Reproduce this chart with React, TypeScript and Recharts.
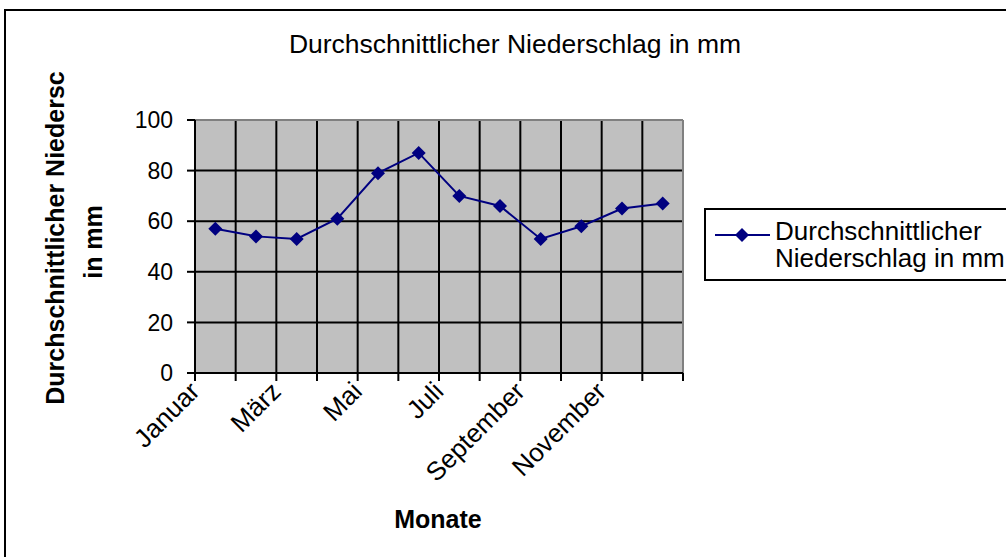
import { CartesianGrid, Line, LineChart, ReferenceLine, XAxis, YAxis } from "recharts"

// Monate und Werte (mm)
const months = [
    "Januar", "Februar", "März", "April", "Mai", "Juni",
    "Juli", "August", "September", "Oktober", "November", "Dezember",
]
const rainfall = [57, 54, 53, 61, 79, 87, 70, 66, 53, 58, 65, 67]
const yTicks = [0, 20, 40, 60, 80, 100]
const xTicks = [0, 1, 2, 3, 4, 5, 6, 7, 8, 9, 10, 11, 12]

const data = months.map((month, i) => ({ pos: i + 0.5, month, value: rainfall[i] }))

const font = '"Liberation Sans", Arial, sans-serif'
const navy = "#000080"

function MonthTick(props: any) {
    const { x, y, payload } = props
    const i = payload.value
    if (i % 2 !== 0 || i >= months.length) return <g />
    return (
        <text
            x={x + 6}
            y={y + 10}
            transform={`rotate(-45, ${x + 6}, ${y + 10})`}
            textAnchor="end"
            fontSize={26}
            fontFamily={font}
            fill="#000"
        >
            {months[i]}
        </text>
    )
}

function Diamond(props: any) {
    const { cx, cy } = props
    if (cx == null || cy == null) return <g />
    const r = 7
    return <path d={`M${cx} ${cy - r} L${cx + r} ${cy} L${cx} ${cy + r} L${cx - r} ${cy} Z`} fill={navy} />
}

function YLabel() {
    return (
        <g fontFamily={font} fontSize={25} fontWeight="bold" fill="#000" textAnchor="middle">
            <text x={64} y={238} transform="rotate(-90, 64, 238)">Durchschnittlicher Niedersc</text>
            <text x={102} y={242} transform="rotate(-90, 102, 242)">in mm</text>
        </g>
    )
}

function XLabel() {
    return (
        <text x={438} y={528} textAnchor="middle" fontFamily={font} fontSize={25} fontWeight="bold" fill="#000">
            Monate
        </text>
    )
}

export default function App() {
    return (
        <div style={{ position: "absolute", left: 0, top: 0, width: 1006, height: 557, overflow: "hidden", background: "#fff", fontFamily: font }}>
            <div style={{ position: "absolute", left: 4, top: 9, width: 1100, height: 700, border: "2px solid #000" }} />
            <div style={{ position: "absolute", left: 0, width: 1030, top: 29, fontSize: 26.5, lineHeight: "30px", textAlign: "center", color: "#000" }}>
                Durchschnittlicher Niederschlag in mm
            </div>
            <div style={{ position: "absolute", left: 0, top: 0 }}>
                <LineChart width={1006} height={557} data={data} margin={{ top: 120, right: 323, bottom: 94, left: 135 }}>
                    <CartesianGrid stroke="#000" strokeWidth={2} fill="#C0C0C0" fillOpacity={1} />
                    <XAxis
                        type="number"
                        dataKey="pos"
                        domain={[0, 12]}
                        ticks={xTicks}
                        interval={0}
                        height={90}
                        tick={<MonthTick />}
                        tickSize={8}
                        tickMargin={2}
                        axisLine={{ stroke: "#000", strokeWidth: 2 }}
                        tickLine={{ stroke: "#000", strokeWidth: 2 }}
                        label={<XLabel />}
                    />
                    <YAxis
                        domain={[0, 100]}
                        ticks={yTicks}
                        width={60}
                        tickSize={8}
                        tickMargin={14}
                        tick={{ fontSize: 23, fontFamily: font, fill: "#000" }}
                        axisLine={{ stroke: "#000", strokeWidth: 2 }}
                        tickLine={{ stroke: "#000", strokeWidth: 2 }}
                        label={<YLabel />}
                    />
                    <ReferenceLine x={12} stroke="#808080" strokeWidth={2} />
                    <ReferenceLine y={100} stroke="#808080" strokeWidth={2} />
                    <Line
                        type="linear"
                        dataKey="value"
                        stroke={navy}
                        strokeWidth={2}
                        dot={<Diamond />}
                        activeDot={false}
                        isAnimationActive={false}
                    />
                </LineChart>
            </div>
            <div style={{ position: "absolute", left: 704, top: 208, width: 400, height: 69, border: "2px solid #000", background: "#fff" }}>
                <svg width={60} height={40} style={{ position: "absolute", left: 9, top: 5 }}>
                    <line x1={0} y1={20} x2={55} y2={20} stroke={navy} strokeWidth={2} />
                    <path d="M27 13 L34 20 L27 27 L20 20 Z" fill={navy} />
                </svg>
                <div style={{ position: "absolute", left: 69, top: 8, fontSize: 26, lineHeight: "27px", color: "#000" }}>
                    Durchschnittlicher
                    <br />
                    Niederschlag in mm
                </div>
            </div>
        </div>
    )
}
